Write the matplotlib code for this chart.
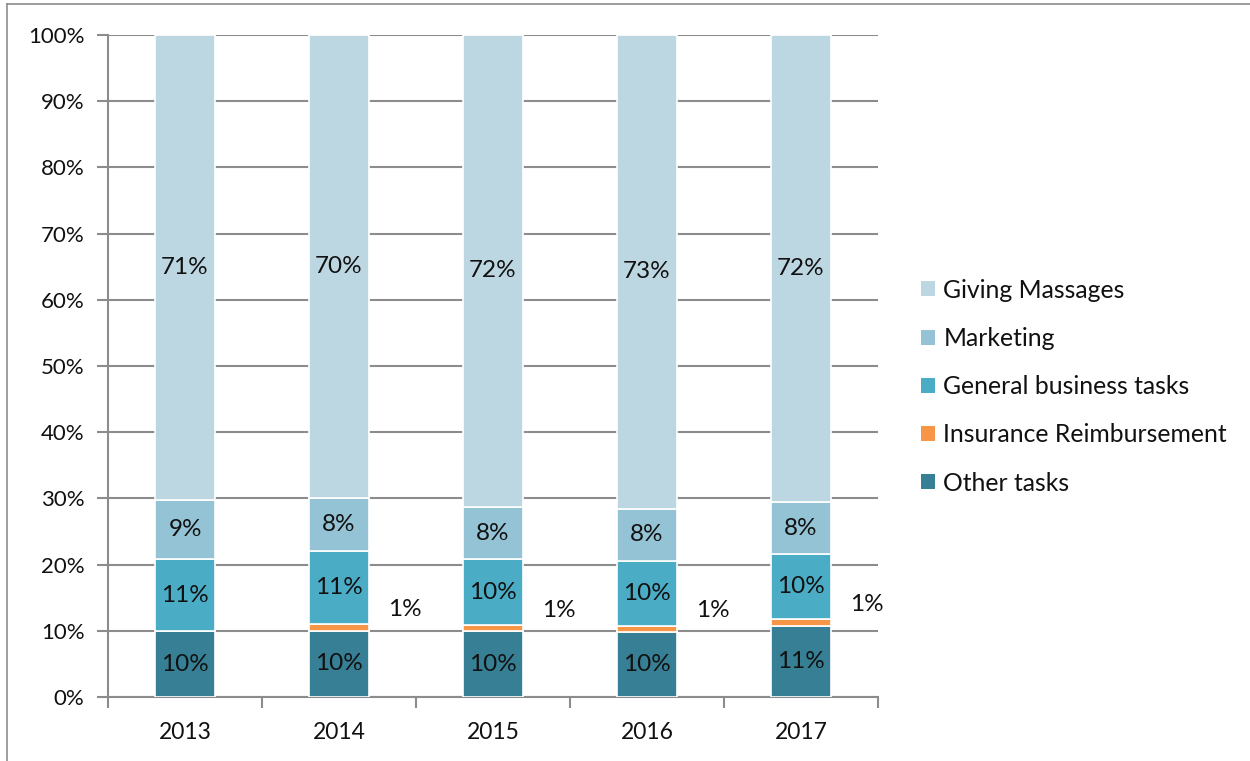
import numpy as np
import matplotlib
matplotlib.use("Agg")
import matplotlib.pyplot as plt
from matplotlib.patches import Patch

plt.rcParams['font.family'] = ['Lato', 'DejaVu Sans']

years = ['2013', '2014', '2015', '2016', '2017']
# share of time per task, in percent, bottom to top of each bar
other = [10, 10, 10, 10, 11]
insurance = [0, 1, 1, 1, 1]
general = [11, 11, 10, 10, 10]
marketing = [9, 8, 8, 8, 8]
massages = [71, 70, 72, 73, 72]

series = [
    ('Other tasks', other, '#377f94'),
    ('Insurance Reimbursement', insurance, '#f79646'),
    ('General business tasks', general, '#4bacc6'),
    ('Marketing', marketing, '#93c3d4'),
    ('Giving Massages', massages, '#bdd7e2'),
]

totals = np.sum([s[1] for s in series], axis=0)
x = np.arange(len(years))

fig = plt.figure(figsize=(12.5, 7.61), dpi=100)
ax = fig.add_axes([0.0864, 0.0841, 0.616, 0.8699])

bottom = np.zeros(len(years))
for name, vals, color in series:
    vals = np.array(vals, dtype=float)
    share = vals / totals * 100
    ax.bar(x, share, bottom=bottom, width=0.39, color=color,
           edgecolor='white', linewidth=1.2, zorder=3, label=name)
    for i, v in enumerate(vals):
        if v == 0:
            continue
        yc = bottom[i] + share[i] / 2
        if name == 'Insurance Reimbursement':
            ax.annotate('%d%%' % v, (x[i], yc), xytext=(66, 18),
                        textcoords='offset pixels', ha='center', va='center',
                        fontsize=17.5, color='#111111', zorder=4,
                        bbox=dict(facecolor='white', edgecolor='none', pad=5))
        else:
            ax.text(x[i], yc, '%d%%' % v, ha='center', va='center',
                    fontsize=17.5, color='#111111', zorder=4)
    bottom += share

ax.set_xlim(-0.5, len(years) - 0.5)
ax.set_ylim(0, 100)
ax.set_yticks(np.arange(0, 101, 10))
ax.set_yticklabels(['%d%%' % t for t in range(0, 101, 10)])
ax.set_xticks(x)
ax.set_xticklabels(years)
ax.set_xticks(np.arange(-0.5, len(years), 1), minor=True)

ax.yaxis.grid(True, color='#8c8c8c', linewidth=1.5, zorder=0)
ax.set_axisbelow(True)
for side in ['top', 'right']:
    ax.spines[side].set_visible(False)
for side in ['left', 'bottom']:
    ax.spines[side].set_color('#8c8c8c')
    ax.spines[side].set_linewidth(1.5)

ax.tick_params(axis='y', length=8, width=1.5, color='#8c8c8c', pad=9,
               labelsize=16, labelcolor='#111111')
ax.tick_params(axis='x', which='major', length=0, pad=18,
               labelsize=16.5, labelcolor='#111111')
ax.tick_params(axis='x', which='minor', length=8, width=1.5, color='#8c8c8c')

handles = [Patch(facecolor=c, edgecolor='none', label=n) for n, _, c in series[::-1]]
fig.legend(handles=handles, loc='center left', bbox_to_anchor=(0.719, 0.492),
           frameon=False, fontsize=17.8, handlelength=0.55, handleheight=0.55,
           handletextpad=0.35, labelspacing=1.02, labelcolor='#111111')

# thin frame around the chart area
fig.add_artist(plt.Line2D([0.0056, 0.0056], [0, 0.995], transform=fig.transFigure,
                          color='#8c8c8c', linewidth=1.2))
fig.add_artist(plt.Line2D([0.0056, 1], [0.995, 0.995], transform=fig.transFigure,
                          color='#8c8c8c', linewidth=1.2))

fig.savefig('out.png', dpi=100, facecolor='white')
